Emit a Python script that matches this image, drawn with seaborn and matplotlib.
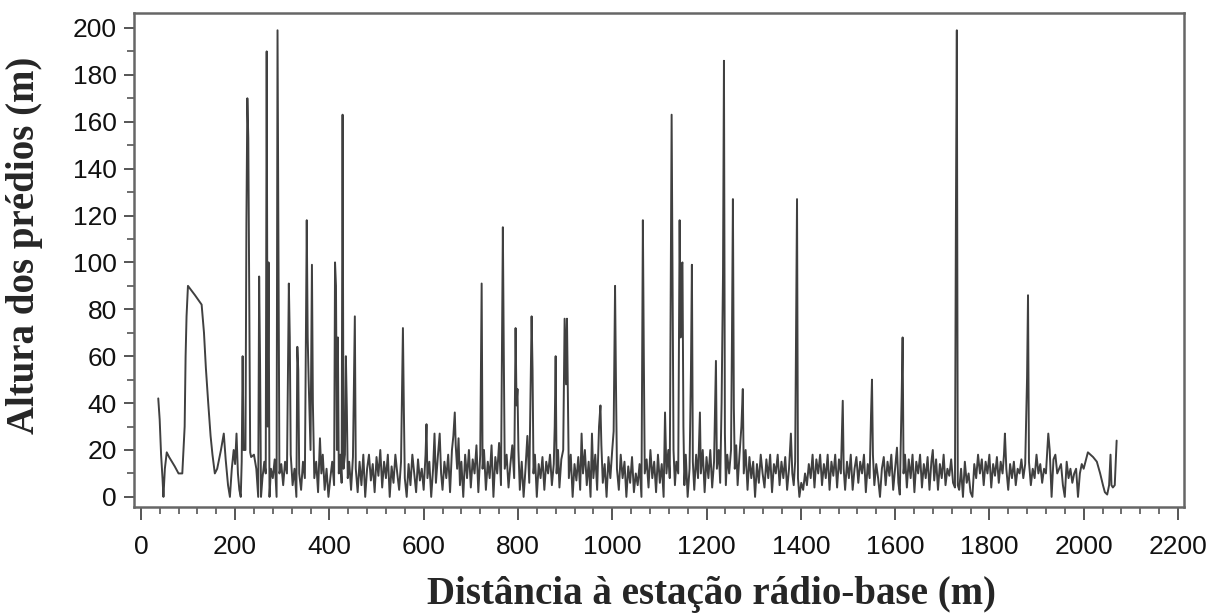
import matplotlib
matplotlib.use("Agg")
import matplotlib.pyplot as plt
import seaborn as sns
from matplotlib.ticker import MultipleLocator

# distance to base station (m) and building height (m)
distancia = [
    37, 40, 43, 46, 48, 51, 55, 60, 66, 72, 80, 88, 93, 95, 97, 100, 115, 129, 134, 138,
    143, 148, 152, 157, 162, 170, 176, 180, 185, 189, 193, 197, 200, 203, 206, 209, 212, 214, 216, 218,
    222, 224, 226, 228, 230, 232, 234, 240, 245, 249, 251, 253, 255, 258, 262, 265, 267, 269, 271, 273,
    276, 280, 284, 288, 290, 292, 294, 298, 302, 306, 310, 314, 316, 318, 322, 326, 330, 332, 334, 336,
    340, 344, 348, 352, 354, 356, 360, 363, 365, 368, 372, 376, 380, 383, 386, 390, 394, 398, 402, 406,
    410, 412, 414, 416, 418, 420, 423, 426, 428, 430, 433, 435, 437, 439, 442, 446, 450, 454, 456, 460,
    464, 468, 472, 476, 480, 484, 488, 492, 496, 500, 504, 508, 512, 516, 520, 524, 528, 532, 536, 540,
    544, 548, 552, 556, 558, 560, 564, 568, 572, 576, 580, 584, 588, 592, 596, 600, 604, 606, 608, 612,
    616, 620, 623, 626, 630, 634, 637, 640, 644, 648, 652, 656, 660, 663, 666, 668, 671, 674, 677, 680,
    684, 688, 692, 696, 700, 704, 708, 712, 716, 720, 723, 725, 728, 732, 736, 740, 744, 748, 752, 756,
    760, 764, 768, 770, 772, 776, 780, 784, 788, 792, 795, 797, 799, 801, 804, 808, 812, 816, 820, 824,
    827, 829, 831, 833, 836, 840, 844, 848, 852, 856, 860, 864, 868, 872, 876, 878, 880, 882, 885, 888,
    892, 896, 899, 902, 904, 906, 908, 912, 916, 920, 924, 928, 932, 935, 938, 942, 946, 950, 954, 957,
    960, 964, 968, 972, 975, 977, 980, 984, 988, 992, 996, 1000, 1003, 1006, 1008, 1010, 1014, 1018, 1022, 1026,
    1030, 1034, 1038, 1042, 1046, 1050, 1054, 1058, 1062, 1065, 1067, 1069, 1073, 1077, 1081, 1085, 1089, 1093, 1097, 1101,
    1105, 1109, 1112, 1115, 1119, 1122, 1126, 1128, 1130, 1133, 1136, 1140, 1143, 1145, 1147, 1149, 1151, 1153, 1156, 1160,
    1164, 1167, 1169, 1171, 1174, 1178, 1182, 1186, 1188, 1192, 1196, 1200, 1204, 1208, 1212, 1216, 1220, 1222, 1226, 1229,
    1232, 1235, 1237, 1239, 1241, 1244, 1248, 1252, 1254, 1256, 1258, 1260, 1263, 1266, 1270, 1274, 1277, 1279, 1283, 1287,
    1291, 1295, 1299, 1303, 1307, 1311, 1315, 1319, 1323, 1327, 1331, 1335, 1339, 1343, 1347, 1351, 1355, 1359, 1363, 1367,
    1371, 1375, 1379, 1382, 1385, 1388, 1390, 1392, 1394, 1397, 1401, 1405, 1409, 1413, 1417, 1421, 1425, 1429, 1433, 1437,
    1441, 1445, 1449, 1453, 1457, 1461, 1465, 1469, 1473, 1477, 1481, 1485, 1489, 1491, 1494, 1498, 1502, 1506, 1510, 1514,
    1518, 1522, 1526, 1530, 1534, 1538, 1542, 1546, 1549, 1551, 1553, 1556, 1560, 1564, 1568, 1572, 1576, 1580, 1584, 1588,
    1592, 1596, 1600, 1604, 1607, 1610, 1614, 1616, 1618, 1621, 1625, 1629, 1633, 1637, 1641, 1645, 1649, 1653, 1657, 1661,
    1665, 1669, 1673, 1677, 1680, 1683, 1687, 1691, 1695, 1699, 1703, 1707, 1711, 1715, 1719, 1723, 1727, 1729, 1731, 1733,
    1736, 1740, 1744, 1748, 1752, 1756, 1760, 1764, 1768, 1772, 1776, 1780, 1784, 1788, 1792, 1796, 1800, 1804, 1808, 1812,
    1816, 1820, 1824, 1828, 1831, 1833, 1836, 1840, 1844, 1848, 1852, 1856, 1860, 1864, 1868, 1872, 1876, 1880, 1882, 1884,
    1888, 1892, 1896, 1900, 1904, 1908, 1912, 1916, 1920, 1925, 1928, 1932, 1936, 1940, 1944, 1948, 1952, 1956, 1960, 1964,
    1968, 1972, 1976, 1980, 1984, 1988, 1992, 1996, 2000, 2009, 2020, 2028, 2035, 2041, 2045, 2050, 2054, 2057, 2059, 2062,
    2066, 2070,
]
altura = [
    42, 33, 18, 8, 0, 12, 19, 17, 15, 13, 10, 10, 30, 60, 77, 90, 86, 82, 70, 55,
    40, 26, 18, 10, 12, 20, 27, 16, 5, 0, 12, 20, 14, 27, 10, 3, 0, 15, 60, 20,
    20, 117, 170, 153, 86, 19, 17, 18, 12, 0, 94, 56, 0, 8, 15, 10, 190, 30, 100, 0,
    12, 8, 16, 0, 199, 106, 10, 14, 5, 15, 10, 91, 68, 18, 5, 12, 0, 64, 54, 10,
    3, 15, 8, 118, 68, 50, 20, 99, 40, 8, 15, 2, 25, 10, 18, 3, 12, 0, 8, 15,
    5, 100, 90, 20, 68, 10, 18, 6, 163, 12, 18, 60, 38, 8, 15, 3, 17, 77, 12, 2,
    15, 5, 18, 0, 12, 18, 7, 14, 2, 17, 9, 20, 4, 15, 8, 18, 0, 13, 6, 18,
    10, 3, 15, 72, 37, 8, 0, 14, 5, 18, 10, 2, 16, 7, 12, 3, 18, 31, 8, 15,
    0, 12, 27, 6, 17, 27, 10, 3, 15, 8, 18, 2, 20, 26, 36, 22, 12, 25, 5, 15,
    0, 18, 8, 20, 4, 16, 10, 22, 2, 18, 91, 12, 20, 3, 15, 8, 22, 0, 17, 10,
    23, 5, 115, 60, 12, 18, 4, 14, 22, 8, 72, 39, 46, 20, 3, 15, 0, 12, 26, 6,
    47, 77, 54, 10, 18, 0, 14, 8, 17, 3, 15, 10, 18, 5, 14, 30, 60, 10, 20, 4,
    16, 20, 76, 48, 76, 40, 8, 18, 0, 14, 7, 17, 3, 27, 10, 20, 5, 15, 0, 27,
    8, 18, 3, 30, 39, 22, 6, 14, 0, 17, 8, 20, 28, 90, 47, 12, 3, 18, 8, 15,
    0, 13, 6, 17, 2, 10, 5, 14, 0, 118, 60, 10, 16, 4, 20, 8, 15, 2, 18, 6,
    14, 0, 36, 10, 20, 8, 163, 91, 20, 5, 15, 10, 118, 68, 99, 100, 30, 5, 18, 0,
    12, 54, 99, 15, 3, 18, 8, 36, 10, 20, 2, 17, 8, 20, 4, 15, 58, 12, 20, 6,
    40, 95, 186, 27, 5, 18, 10, 20, 68, 127, 38, 12, 22, 5, 18, 30, 46, 10, 20, 3,
    17, 8, 15, 0, 14, 6, 18, 10, 4, 16, 8, 18, 2, 14, 10, 18, 5, 15, 8, 17,
    3, 12, 27, 10, 5, 15, 70, 127, 8, 0, 6, 3, 10, 5, 14, 8, 18, 4, 16, 10,
    18, 5, 14, 8, 18, 3, 15, 9, 18, 4, 16, 10, 41, 12, 3, 15, 8, 18, 3, 12,
    17, 6, 15, 10, 18, 2, 14, 8, 35, 50, 18, 5, 14, 8, 0, 12, 17, 5, 15, 9,
    18, 3, 12, 21, 6, 1, 43, 68, 10, 18, 4, 16, 8, 18, 2, 15, 10, 18, 4, 14,
    8, 17, 3, 15, 20, 7, 16, 3, 14, 8, 18, 5, 12, 9, 16, 6, 4, 117, 199, 5,
    3, 12, 0, 15, 6, 10, 2, 0, 14, 8, 18, 10, 16, 5, 15, 10, 18, 4, 14, 9,
    17, 6, 15, 10, 18, 27, 12, 3, 14, 8, 15, 5, 12, 10, 16, 8, 14, 51, 86, 15,
    5, 12, 8, 18, 10, 14, 6, 12, 10, 27, 20, 0, 16, 18, 10, 12, 14, 5, 0, 15,
    8, 12, 6, 10, 12, 0, 10, 14, 12, 19, 17, 15, 10, 5, 2, 1, 5, 18, 5, 4,
    5, 24,
]

x_ticks = [0, 200, 400, 600, 800, 1000, 1200, 1400, 1600, 1800, 2000, 2200]
y_ticks = [0, 20, 40, 60, 80, 100, 120, 140, 160, 180, 200]

sns.set_theme(style="white")
plt.rcParams["font.family"] = ["Liberation Sans", "DejaVu Sans"]

fig = plt.figure(figsize=(12.27, 6.16), dpi=100)
ax = fig.add_axes([0.109, 0.177, 0.856, 0.802])

sns.lineplot(x=distancia, y=altura, ax=ax, color="black", linewidth=1.4,
             alpha=0.75, estimator=None, sort=False)

ax.set_xlim(-15, 2213)
ax.set_ylim(-4.3, 206.4)
ax.set_xticks(x_ticks)
ax.set_yticks(y_ticks)
ax.xaxis.set_minor_locator(MultipleLocator(40))
ax.yaxis.set_minor_locator(MultipleLocator(10))
ax.tick_params(axis="both", which="major", direction="out", length=9, width=1.4,
               color="#555555", labelsize=19, labelcolor="#111111")
ax.tick_params(axis="both", which="minor", direction="out", length=5, width=1.2,
               color="#555555")
ax.tick_params(axis="x", which="major", pad=11)
ax.tick_params(axis="y", which="major", length=7, pad=5)
ax.tick_params(bottom=True, left=True, which="both")

for side in ["top", "right", "bottom", "left"]:
    ax.spines[side].set_visible(True)
    ax.spines[side].set_color("#666666")
    ax.spines[side].set_linewidth(1.8)

lab = dict(family=["Liberation Serif", "DejaVu Serif"], weight="bold", size=28)
ax.set_xlabel("Distância à estação rádio-base (m)", **lab)
ax.set_ylabel("Altura dos prédios (m)", **lab)
ax.xaxis.set_label_coords(0.55, -0.14)
ax.yaxis.set_label_coords(-0.086, 0.53)

fig.savefig("out.png", dpi=100)
